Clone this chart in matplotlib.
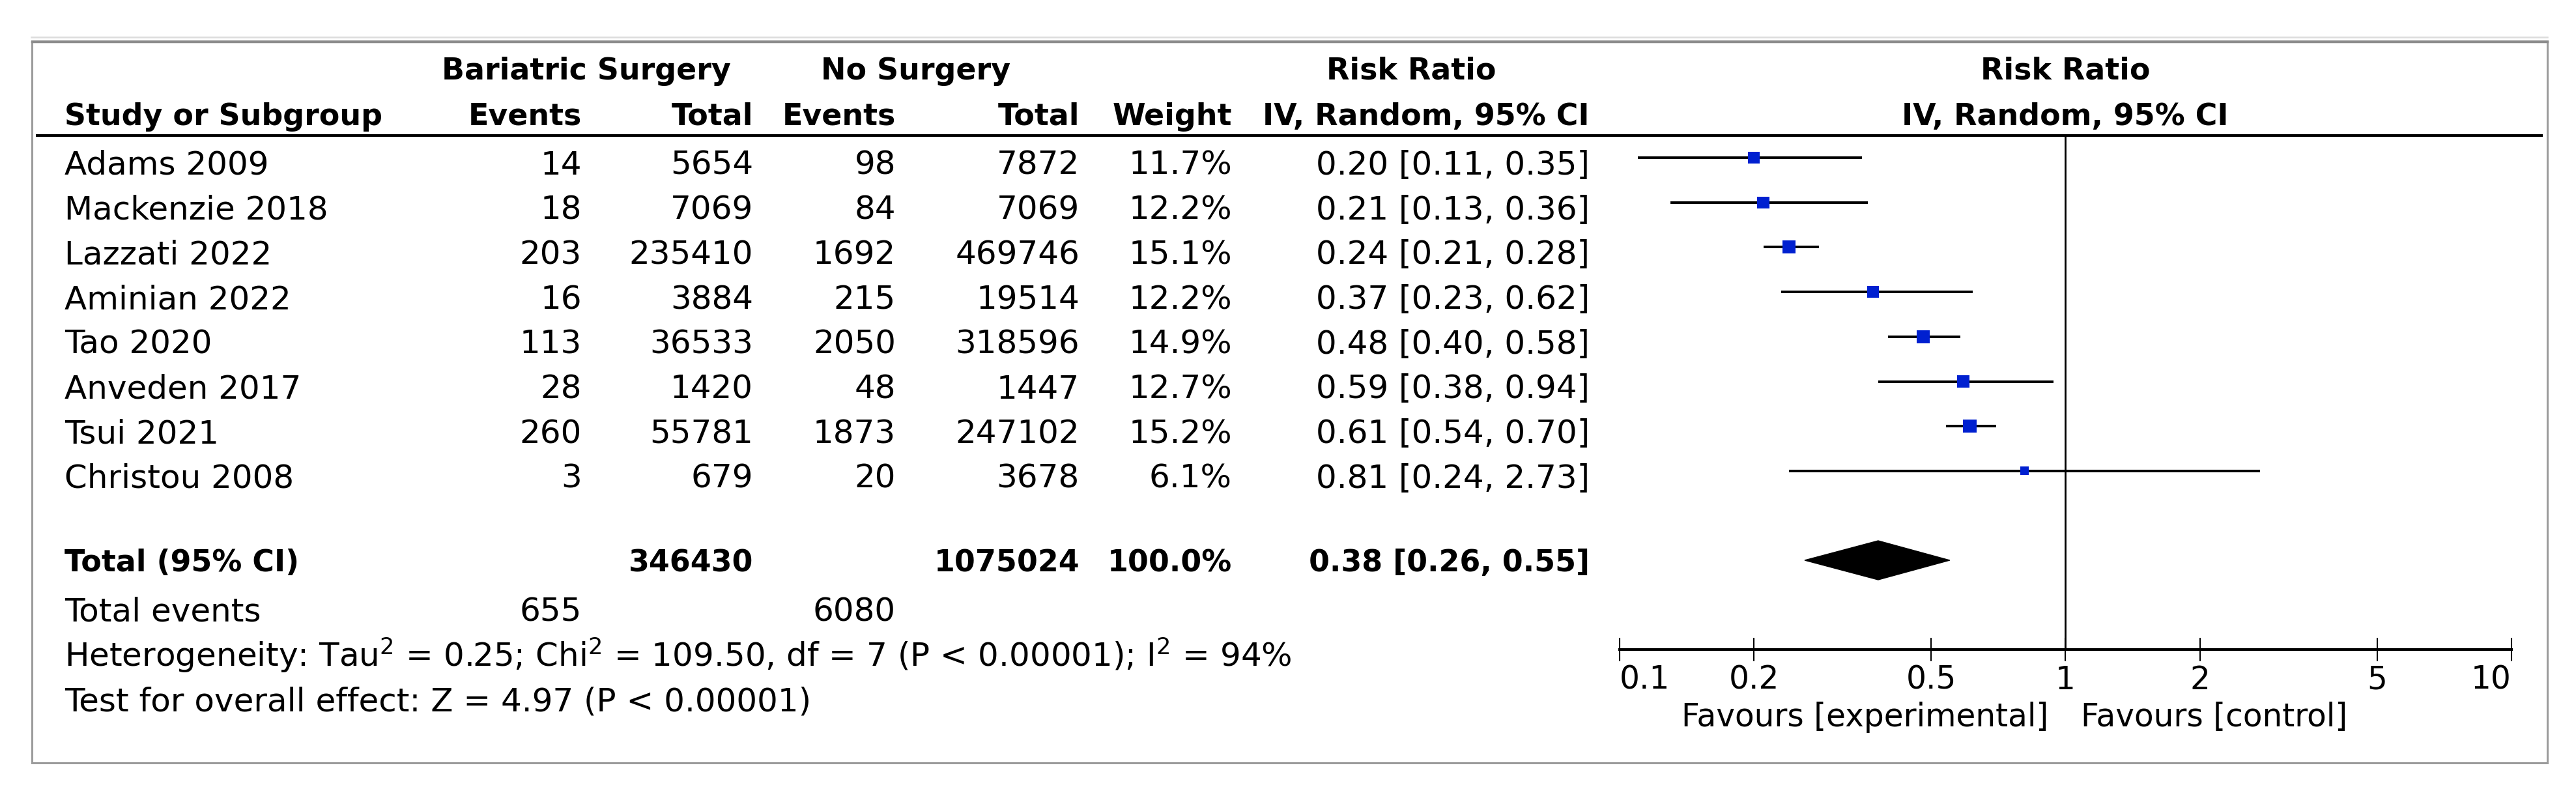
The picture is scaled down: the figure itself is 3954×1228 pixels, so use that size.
import numpy as np
import matplotlib
matplotlib.use("Agg")
import matplotlib.pyplot as plt
from matplotlib.patches import Rectangle

# Study data
studies = ["Adams 2009", "Mackenzie 2018", "Lazzati 2022", "Aminian 2022",
           "Tao 2020", "Anveden 2017", "Tsui 2021", "Christou 2008"]
bs_events = [14, 18, 203, 16, 113, 28, 260, 3]
bs_total = [5654, 7069, 235410, 3884, 36533, 1420, 55781, 679]
ns_events = [98, 84, 1692, 215, 2050, 48, 1873, 20]
ns_total = [7872, 7069, 469746, 19514, 318596, 1447, 247102, 3678]
weights = [11.7, 12.2, 15.1, 12.2, 14.9, 12.7, 15.2, 6.1]
rr = [0.20, 0.21, 0.24, 0.37, 0.48, 0.59, 0.61, 0.81]
ci_lo = [0.11, 0.13, 0.21, 0.23, 0.40, 0.38, 0.54, 0.24]
ci_hi = [0.35, 0.36, 0.28, 0.62, 0.58, 0.94, 0.70, 2.73]

# Pooled results
total_bs = 346430
total_ns = 1075024
total_weight = 100.0
pooled_rr = 0.38
pooled_lo = 0.26
pooled_hi = 0.55
events_bs = 655
events_ns = 6080
tau2, chi2, df, p_het, i2 = 0.25, 109.50, 7, "0.00001", 94
z_val, p_z = 4.97, "0.00001"

xticks = [0.1, 0.2, 0.5, 1, 2, 5, 10]
xtick_labels = ["0.1", "0.2", "0.5", "1", "2", "5", "10"]

# Layout (pixel units of the 3955x1228 canvas)
W, H = 3955, 1228
ROW0 = 242          # y of first study row (CI line)
ROW_STEP = 68.7
BASE_DROP = 26      # text baseline below the row line
TOTAL_Y = 860
AXIS_Y = 997
HEAD_LINE_Y = 208
PLOT_X0, PLOT_X1 = 2486, 3855

COL_STUDY = 99
COL_BS_EV = 893
COL_BS_TOT = 1156
COL_NS_EV = 1375
COL_NS_TOT = 1657
COL_WEIGHT = 1891
COL_RR = 2440
COL_PLOT_C = 3170

FS = 36
FS_B = 33

plt.rcParams['font.family'] = ['DejaVu Sans']
plt.rcParams['mathtext.default'] = 'regular'

fig = plt.figure(figsize=(W / 100, H / 100), dpi=100)
ax = fig.add_axes([0, 0, 1, 1])
ax.set_xlim(0, W)
ax.set_ylim(H, 0)
ax.axis('off')

# frame
ax.add_patch(Rectangle((49, 63), 3910 - 49, 1171 - 63, fill=False,
                       edgecolor='#9c9c9c', lw=2.2))
ax.plot([48, 3910], [57, 57], color='#dcdcdc', lw=1.8)
ax.plot([49, 3910], [64, 64], color='#8c8c8c', lw=2.5)

# header
hb = dict(fontsize=FS_B, fontweight='bold', va='baseline')
ax.text(900, 122, "Bariatric Surgery", ha='center', **hb)
ax.text(1406, 122, "No Surgery", ha='center', **hb)
ax.text(2166, 122, "Risk Ratio", ha='center', **hb)
ax.text(COL_PLOT_C, 122, "Risk Ratio", ha='center', **hb)
ax.text(COL_STUDY, 192, "Study or Subgroup", ha='left', **hb)
ax.text(COL_BS_EV, 192, "Events", ha='right', **hb)
ax.text(COL_BS_TOT, 192, "Total", ha='right', **hb)
ax.text(COL_NS_EV, 192, "Events", ha='right', **hb)
ax.text(COL_NS_TOT, 192, "Total", ha='right', **hb)
ax.text(COL_WEIGHT, 192, "Weight", ha='right', **hb)
ax.text(COL_RR, 192, "IV, Random, 95% CI", ha='right', **hb)
ax.text(COL_PLOT_C, 192, "IV, Random, 95% CI", ha='center', **hb)
ax.plot([55, 3903], [HEAD_LINE_Y, HEAD_LINE_Y], color='black', lw=2.9,
        solid_capstyle='butt')

# study rows
rows = ROW0 + ROW_STEP * np.arange(len(studies))
tr = dict(fontsize=FS, va='baseline')
for i, name in enumerate(studies):
    yb = rows[i] + BASE_DROP
    ax.text(COL_STUDY, yb, name, ha='left', **tr)
    ax.text(COL_BS_EV, yb, str(bs_events[i]), ha='right', **tr)
    ax.text(COL_BS_TOT, yb, str(bs_total[i]), ha='right', **tr)
    ax.text(COL_NS_EV, yb, str(ns_events[i]), ha='right', **tr)
    ax.text(COL_NS_TOT, yb, str(ns_total[i]), ha='right', **tr)
    ax.text(COL_WEIGHT, yb, f"{weights[i]:.1f}%", ha='right', **tr)
    ax.text(COL_RR, yb, f"{rr[i]:.2f} [{ci_lo[i]:.2f}, {ci_hi[i]:.2f}]",
            ha='right', **tr)

# total row
yb = TOTAL_Y + 17
ax.text(COL_STUDY, yb, "Total (95% CI)", ha='left', **hb)
ax.text(COL_BS_TOT, yb, str(total_bs), ha='right', **hb)
ax.text(COL_NS_TOT, yb, str(total_ns), ha='right', **hb)
ax.text(COL_WEIGHT, yb, f"{total_weight:.1f}%", ha='right', **hb)
ax.text(COL_RR, yb, f"{pooled_rr:.2f} [{pooled_lo:.2f}, {pooled_hi:.2f}]",
        ha='right', **hb)

# footer
ax.text(COL_STUDY, 953, "Total events", ha='left', **tr)
ax.text(COL_BS_EV, 953, str(events_bs), ha='right', **tr)
ax.text(COL_NS_EV, 953, str(events_ns), ha='right', **tr)
ax.text(COL_STUDY, 1023,
        f"Heterogeneity: Tau$^2$ = {tau2:.2f}; Chi$^2$ = {chi2:.2f}, df = {df} "
        f"(P < {p_het}); I$^2$ = {i2}%", ha='left', **tr)
ax.text(COL_STUDY, 1092, f"Test for overall effect: Z = {z_val:.2f} (P < {p_z})",
        ha='left', **tr)

# forest plot
fax = fig.add_axes([PLOT_X0 / W, 1 - AXIS_Y / H,
                    (PLOT_X1 - PLOT_X0) / W, (AXIS_Y - HEAD_LINE_Y) / H])
fax.patch.set_alpha(0)
fax.set_xscale('log')
fax.set_xlim(0.1, 10)
fax.set_ylim(AXIS_Y, HEAD_LINE_Y)
for s in ['top', 'left', 'right']:
    fax.spines[s].set_visible(False)
fax.spines['bottom'].set_linewidth(2.9)
fax.set_yticks([])
fax.set_xticks(xticks, xtick_labels)
fax.minorticks_off()
fax.tick_params(axis='x', direction='inout', length=26.6, width=1.5,
                labelsize=35, pad=3)
labels = fax.get_xticklabels()
labels[0].set_horizontalalignment('left')
labels[-1].set_horizontalalignment('right')

fax.axvline(1, color='black', lw=2.0)
fax.hlines(rows, ci_lo, ci_hi, color='black', lw=2.8, zorder=2)
fax.scatter(rr, rows, marker='s', s=np.array(weights) * 14, color='#0020d0',
            linewidths=0, zorder=3)
fax.fill([pooled_lo, pooled_rr, pooled_hi, pooled_rr],
         [TOTAL_Y, TOTAL_Y - 30, TOTAL_Y, TOTAL_Y + 30], color='black',
         zorder=3)

ax.text(3144, 1115, "Favours [experimental]", ha='right', fontsize=35,
        va='baseline')
ax.text(3194, 1115, "Favours [control]", ha='left', fontsize=35, va='baseline')

fig.savefig("out.png", dpi=100)
